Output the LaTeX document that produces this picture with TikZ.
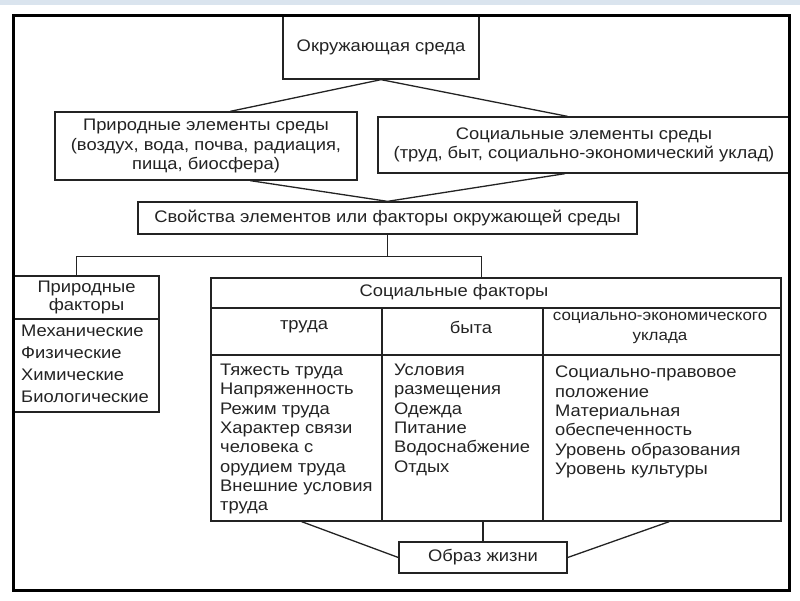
\documentclass[tikz,border=0pt]{standalone}
\usepackage{fontspec}
\setmainfont{Liberation Sans}[FakeStretch=1.1]
\usepackage{xcolor}
\usepackage{tikz}
\usetikzlibrary{calc}
\definecolor{bandcolor}{RGB}{218,228,238}
\definecolor{inkcolor}{RGB}{35,35,35}

\begin{document}
\begin{tikzpicture}[x=1pt,y=-1pt,
  box/.style={draw=inkcolor,line width=1.3pt,inner sep=0pt},
  txt/.style={font=\fontsize{16.7}{19.5}\selectfont,text=inkcolor,inner sep=0pt,align=center},
  lst/.style={txt,align=left,anchor=north west,font=\fontsize{16.7}{19.3}\selectfont},
  link/.style={draw=inkcolor,line width=1.3pt}]
  \useasboundingbox (0,0) rectangle (800,600);
  \fill[bandcolor] (0,0) rectangle (800,5);
  % environment and its elements
  \node[box,txt,minimum width=196pt,minimum height=64pt] (env) at (381,47) {Окружающая среда};
  \node[box,txt,minimum width=302pt,minimum height=68pt] (natel) at (206,146)
    {Природные элементы среды\\(воздух, вода, почва, радиация,\\пища, биосфера)};
  \node[box,txt,minimum width=412pt,minimum height=56pt] (socel) at (584,145)
    {Социальные элементы среды\\(труд, быт, социально-экономический уклад)};
  \node[box,txt,minimum width=499pt,minimum height=32pt] (props) at (387.5,218)
    {Свойства элементов или факторы окружающей среды};
  \draw[link] ($(natel.north west)!.58!(natel.north east)$) -- (env.south)
    -- ($(socel.north west)!.46!(socel.north east)$);
  \draw[link] ($(natel.south west)!.646!(natel.south east)$) -- (props.north)
    -- ($(socel.south west)!.454!(socel.south east)$);
  % natural factors
  \node[box,txt,minimum width=145pt,minimum height=43pt,font=\fontsize{16.7}{18.3}\selectfont] (natfh) at (86.5,297.5)
    {Природные\\факторы};
  \node[box,minimum width=145pt,minimum height=93pt] (natfl) at (86.5,365.5) {};
  \node[lst,font=\fontsize{16.7}{22.1}\selectfont] (natft) at (21,325)
    {Механические\\Физические\\Химические\\Биологические};
  % social factors table
  \node[box,minimum width=570pt,minimum height=30pt] (socfh) at (496,293) {};
  \node[txt] (socft) at (454,292) {Социальные факторы};
  \node[box,minimum width=171pt,minimum height=47pt] (trudh) at (296.5,331.5) {};
  \node[box,minimum width=161pt,minimum height=47pt] (byth) at (462.5,331.5) {};
  \node[box,minimum width=238pt,minimum height=47pt] (uklh) at (662,331.5) {};
  \node[txt] (trudt) at (304,327) {труда};
  \node[txt] (bytt) at (471,327) {быта};
  \node[txt,font=\fontsize{15.4}{20}\selectfont] (uklt) at (660,328) {социально-экономического\\уклада};
  \node[box,minimum width=171pt,minimum height=166pt] (trudb) at (296.5,438) {};
  \node[box,minimum width=161pt,minimum height=166pt] (bytb) at (462.5,438) {};
  \node[box,minimum width=238pt,minimum height=166pt] (uklb) at (662,438) {};
  \node[lst] (trudl) at (220,364)
    {Тяжесть труда\\Напряженность\\Режим труда\\Характер связи\\человека с\\орудием труда\\Внешние условия\\труда};
  \node[lst] (bytl) at (394,364)
    {Условия\\размещения\\Одежда\\Питание\\Водоснабжение\\Отдых};
  \node[lst] (ukll) at (555,366)
    {Социально-правовое\\положение\\Материальная\\обеспеченность\\Уровень образования\\Уровень культуры};
  \draw[link] (props.south) -- ++(0,22) coordinate (fork);
  \draw[link] ($(natfh.north west)!.434!(natfh.north east)$) |- (fork)
    -| ($(socfh.north west)!.474!(socfh.north east)$);
  % way of life
  \node[box,txt,minimum width=168pt,minimum height=31pt] (life) at (483,557.5) {Образ жизни};
  \draw[link] (life.north) -- (life.north |- bytb.south);
  \draw[link] ($(trudb.south west)!.53!(trudb.south east)$) -- (life.west);
  \draw[link] ($(uklb.south west)!.53!(uklb.south east)$) -- (life.east);
  % outer frame
  \draw[line width=3.2pt] (13.5,15.5) rectangle (789.5,590.5);
\end{tikzpicture}
\end{document}
